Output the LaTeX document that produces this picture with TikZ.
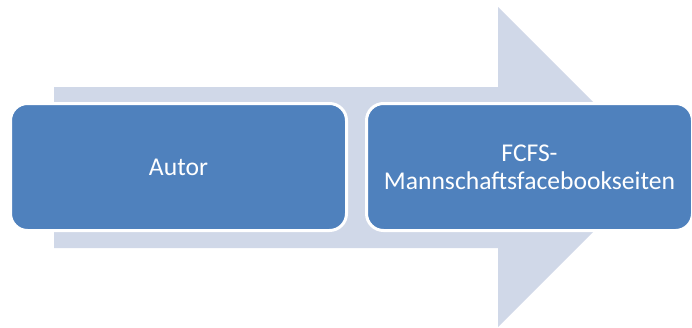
\documentclass[tikz,border=0pt]{standalone}
\usepackage{fontspec}
\setmainfont{Carlito}
\usepackage{xcolor}
\usetikzlibrary{positioning}
\definecolor{l_blue}{HTML}{D0D8E8}
\definecolor{m_blue}{HTML}{4F81BD}

\begin{document}
\begin{tikzpicture}[x=1pt,y=-1pt,
  stage/.style={draw=white, line width=3pt, fill=m_blue, rounded corners=17pt,
    minimum height=127pt, outer sep=0pt, inner sep=0pt, align=center,
    text=white, font=\fontsize{25.6}{28}\selectfont}]
\useasboundingbox (0,0) rectangle (692,327);

% background arrow
\fill[l_blue] (54,87) -- (498,87) -- (498,7) -- (658,167) -- (498,327) -- (498,248) -- (54,248) -- cycle;

\node[stage, minimum width=336pt] (autor) at (178.5,167) {Autor};
\node[stage, minimum width=326pt, right=20pt of autor] (fcfs) {FCFS-\\Mannschaftsfacebookseiten};

\end{tikzpicture}
\end{document}
